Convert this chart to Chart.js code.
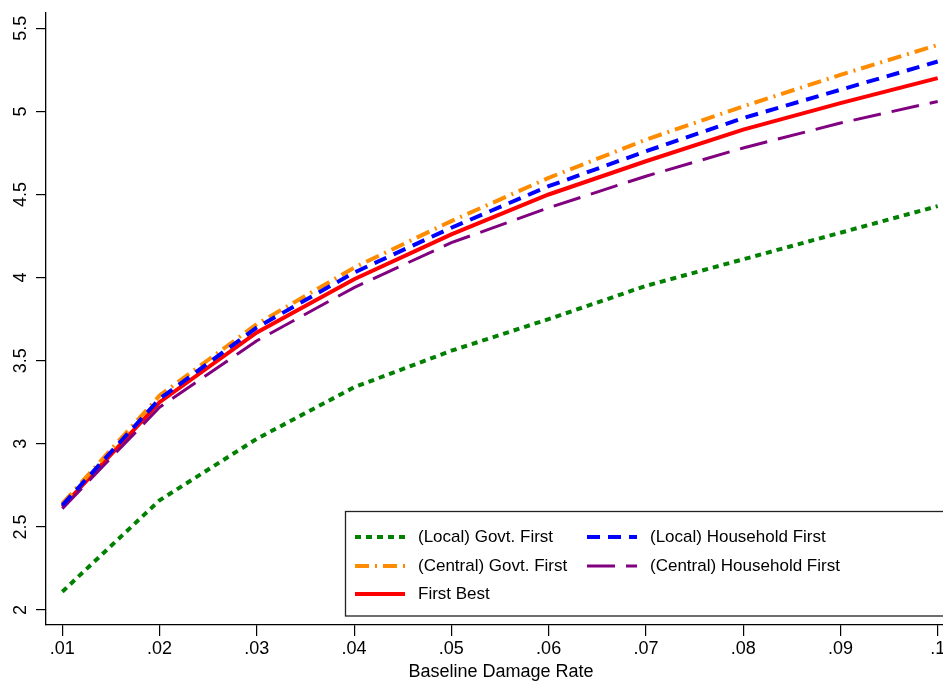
<!DOCTYPE html>
<html>
<head>
<meta charset="utf-8">
<script src="https://cdn.jsdelivr.net/npm/chart.js@4.4.1/dist/chart.umd.min.js"></script>
<style>
  body { margin: 0; background: #fff; }
  #wrap { width: 943px; height: 681px; }
</style>
</head>
<body>
<div id="wrap"><canvas id="damageChart" width="943" height="681"></canvas></div>
<script>
// x values (baseline damage rate) and tick labels
const damageRates = [0.01, 0.02, 0.03, 0.04, 0.05, 0.06, 0.07, 0.08, 0.09, 0.10];
const xTickValues = [0.01, 0.02, 0.03, 0.04, 0.05, 0.06, 0.07, 0.08, 0.09, 0.10];
const xTickLabels = [".01", ".02", ".03", ".04", ".05", ".06", ".07", ".08", ".09", ".1"];
const yTickValues = [2, 2.5, 3, 3.5, 4, 4.5, 5, 5.5];
const yTickLabels = ["2", "2.5", "3", "3.5", "4", "4.5", "5", "5.5"];

// series
const localGovtFirst = [2.11, 2.66, 3.03, 3.34, 3.56, 3.75, 3.95, 4.11, 4.27, 4.43];
const localHouseholdFirst = [2.63, 3.27, 3.70, 4.03, 4.30, 4.55, 4.76, 4.96, 5.13, 5.30];
const centralGovtFirst = [2.64, 3.29, 3.72, 4.06, 4.34, 4.60, 4.83, 5.03, 5.22, 5.40];
const centralHouseholdFirst = [2.61, 3.22, 3.62, 3.94, 4.21, 4.42, 4.61, 4.78, 4.93, 5.06];
const firstBest = [2.62, 3.25, 3.67, 3.99, 4.26, 4.50, 4.70, 4.89, 5.05, 5.20];

const FONT = '"Liberation Sans", Arial, Helvetica, sans-serif';

function toPoints(values) {
    return values.map((v, i) => ({ x: damageRates[i], y: v }));
}

const seriesDefs = [
    { label: "(Local) Govt. First", data: localGovtFirst, color: "#008000", width: 4, dash: [6, 5] },
    { label: "(Local) Household First", data: localHouseholdFirst, color: "#0000ff", width: 4, dash: [13, 8] },
    { label: "(Central) Govt. First", data: centralGovtFirst, color: "#ff8c00", width: 4, dash: [14, 6, 2, 6] },
    { label: "(Central) Household First", data: centralHouseholdFirst, color: "#800080", width: 3, dash: [28, 11] },
    { label: "First Best", data: firstBest, color: "#ff0000", width: 4, dash: [] }
];

// legend slots: [column, row]
const legendSlots = [[0, 0], [1, 0], [0, 1], [1, 1], [0, 2]];

// draws rotated y labels, x labels, axis title and the boxed legend
const stataExtras = {
    id: "stataExtras",
    afterDraw(chart) {
        const ctx = chart.ctx;
        const xs = chart.scales.x;
        const ys = chart.scales.y;
        ctx.save();
        ctx.fillStyle = "#000";
        ctx.font = "18px " + FONT;
        ctx.textAlign = "center";
        ctx.textBaseline = "middle";

        // y labels, rotated
        yTickValues.forEach((v, i) => {
            const py = ys.getPixelForValue(v);
            ctx.save();
            ctx.translate(21, py);
            ctx.rotate(-Math.PI / 2);
            ctx.fillText(yTickLabels[i], 0, 0);
            ctx.restore();
        });

        // x labels
        xTickValues.forEach((v, i) => {
            ctx.fillText(xTickLabels[i], xs.getPixelForValue(v), 649);
        });

        // axis title
        ctx.fillText("Baseline Damage Rate", 501, 672);

        // legend box (runs off the right edge like the original)
        ctx.fillStyle = "#fff";
        ctx.fillRect(345, 511, 610, 105);
        ctx.strokeStyle = "#222";
        ctx.lineWidth = 1.3;
        ctx.strokeRect(345.5, 511.5, 610, 104.5);

        const colX = [355, 587];
        const rowY = [537, 566, 594];
        ctx.textAlign = "left";
        ctx.font = "17px " + FONT;
        chart.data.datasets.forEach((ds, i) => {
            const [c, r] = legendSlots[i];
            const x0 = colX[c];
            const y0 = rowY[r];
            ctx.save();
            ctx.strokeStyle = ds.borderColor;
            ctx.lineWidth = ds.borderWidth;
            ctx.setLineDash(ds.borderDash);
            ctx.beginPath();
            ctx.moveTo(x0, y0);
            ctx.lineTo(x0 + 50, y0);
            ctx.stroke();
            ctx.restore();
            ctx.fillStyle = "#000";
            ctx.fillText(ds.label, x0 + 63, y0);
        });
        ctx.restore();
    }
};

const chart = new Chart(document.getElementById("damageChart"), {
    type: "line",
    data: {
        datasets: seriesDefs.map(s => ({
            label: s.label,
            data: toPoints(s.data),
            borderColor: s.color,
            backgroundColor: s.color,
            borderWidth: s.width,
            borderDash: s.dash,
            borderCapStyle: "butt",
            pointRadius: 0,
            tension: 0,
            fill: false
        }))
    },
    options: {
        responsive: false,
        animation: false,
        devicePixelRatio: 1,
        layout: { padding: { top: 13, right: 0, left: 0, bottom: 0 } },
        plugins: {
            legend: { display: false },
            tooltip: { enabled: false }
        },
        scales: {
            x: {
                type: "linear",
                min: 0.008324,
                max: 0.100545,
                afterBuildTicks: scale => { scale.ticks = xTickValues.map(v => ({ value: v })); },
                afterFit: scale => { scale.height = 56; scale.paddingLeft = 0; scale.paddingRight = 0; },
                ticks: { display: false },
                grid: { drawOnChartArea: false, drawTicks: true, tickLength: 11, color: "#000", lineWidth: 1.2 },
                border: { display: true, color: "#000", width: 1.3 }
            },
            y: {
                type: "linear",
                min: 1.9097,
                max: 5.592,
                afterBuildTicks: scale => { scale.ticks = yTickValues.map(v => ({ value: v })); },
                afterFit: scale => { scale.width = 46; },
                ticks: { display: false },
                grid: { drawOnChartArea: false, drawTicks: true, tickLength: 10, color: "#000", lineWidth: 1.2 },
                border: { display: true, color: "#000", width: 1.3 }
            }
        }
    },
    plugins: [stataExtras]
});
</script>
</body>
</html>
